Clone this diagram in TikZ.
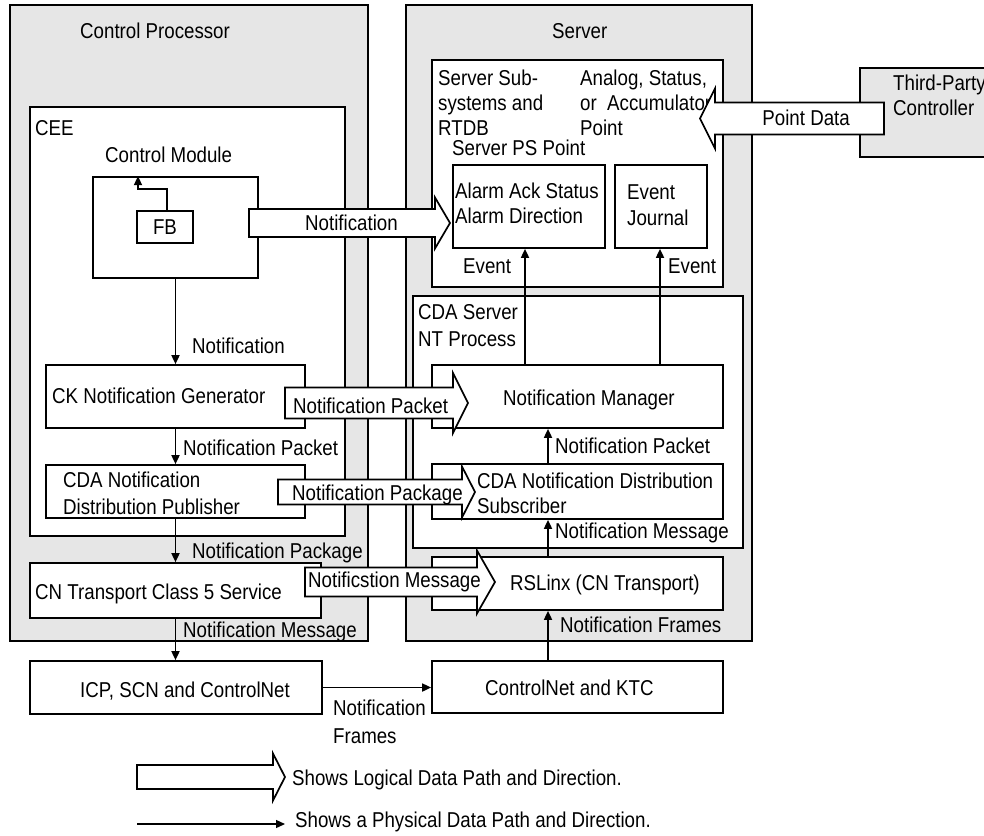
\documentclass[tikz,border=0pt]{standalone}
\usepackage{fontspec}
\setmainfont{Liberation Sans}[FakeStretch=0.87]
\usetikzlibrary{arrows.meta}
\definecolor{boxgray}{RGB}{230,230,230}
\tikzset{
  blk/.style={draw=black, line width=1.7pt, fill=white, inner sep=0pt},
  grp/.style={blk, fill=boxgray},
  lbl/.style={inner sep=0pt, anchor=base west},
  mlbl/.style={inner sep=0pt, anchor=north west, align=left},
  arr/.style={draw=black, line width=1.7pt, -{Triangle[length=9pt,width=8pt]}},
  fat/.style={draw=black, line width=1.7pt, fill=white, line join=miter}
}
\newcommand{\fatarrow}[6]{% tail, base, tip, mid, body half, head half
  \draw[fat] (#1,{#4-#5}) -- (#2,{#4-#5}) -- (#2,{#4-#6}) -- (#3,#4) -- (#2,{#4+#6}) -- (#2,{#4+#5}) -- (#1,{#4+#5}) -- cycle;}
\begin{document}
\begin{tikzpicture}[x=1pt,y=-1pt,font=\fontsize{21.5}{25}\selectfont]
	\tikzstyle{every node}+=[inner sep=0pt]
	\useasboundingbox (0,0) rectangle (984,835);
	\node[grp, minimum width=358, minimum height=636] (cp) at (189,323) {};
	\node[grp, minimum width=346, minimum height=636] (srv) at (579,323) {};
	\node[grp, minimum width=140, minimum height=89] (tpc) at (930,112.5) {};
	\node[blk, minimum width=315, minimum height=429] (cee) at (187.5,321.5) {};
	\node[blk, minimum width=165, minimum height=101] (cm) at (175.5,227.5) {};
	\node[blk, minimum width=56, minimum height=32] (fb) at (165,227) {FB};
	\node[blk, minimum width=291, minimum height=227] (ssys) at (577.5,173.5) {};
	\node[blk, minimum width=152, minimum height=83] (alarm) at (529,206.5) {};
	\node[blk, minimum width=92, minimum height=83] (ej) at (661,206.5) {};
	\node[blk, minimum width=330, minimum height=252] (cdas) at (578,422) {};
	\node[blk, minimum width=291, minimum height=63] (nm) at (577.5,396.5) {};
	\node[blk, minimum width=291, minimum height=55] (sub) at (577.5,491.5) {};
	\node[blk, minimum width=291, minimum height=53] (rsl) at (577.5,583.5) {};
	\node[blk, minimum width=291, minimum height=52] (cnk) at (577.5,687) {};
	\node[blk, minimum width=259, minimum height=63] (ckg) at (175.5,396.5) {};
	\node[blk, minimum width=259, minimum height=53] (pub) at (175.5,491.5) {};
	\node[blk, minimum width=291, minimum height=55] (cnt) at (175.5,590.5) {};
	\node[blk, minimum width=292, minimum height=53] (icp) at (176,687.5) {};
	\draw[arr] ([xshift=2pt]fb.north) -- ++(0,-21) -| ([xshift=-37.5pt]cm.north);
	\draw[arr] (cm.south) -- (ckg.north);
	\draw[arr] (ckg.south) -- (pub.north);
	\draw[arr] (pub.south) -- (cnt.north);
	\draw[arr] (cnt.south) -- (cnt.south |- icp.north);
	\draw[arr] (icp.east) -- (icp.east -| cnk.west);
	\draw[arr] ([xshift=-29.5pt]cnk.north) -- ([xshift=-29.5pt]rsl.south);
	\draw[arr] ([xshift=-29.5pt]rsl.north) -- ([xshift=-29.5pt]sub.south);
	\draw[arr] ([xshift=-29.5pt]sub.north) -- ([xshift=-29.5pt]nm.south);
	\draw[arr] ([xshift=-52.5pt]nm.north) -- ([xshift=-52.5pt]nm.north |- alarm.south);
	\draw[arr] ([xshift=82.5pt]nm.north) -- ([xshift=82.5pt]nm.north |- ej.south);
	\node[lbl] (cpT) at (80,38) {Control Processor};
	\node[lbl] (srvT) at (552,38) {Server};
	\node[lbl] (ceeT) at (35,135) {CEE};
	\node[lbl] (cmT) at (105,162) {Control Module};
	\node[mlbl] (ssysT) at (438,69.4) {Server Sub-\\systems and\\RTDB};
	\node[mlbl] (ptT) at (580,69.4) {Analog, Status,\\or\ \ Accumulator\\Point};
	\node[lbl] (psT) at (452,155) {Server PS Point};
	\node[mlbl] (alarmT) at (455,182.4) {Alarm Ack Status\\Alarm Direction};
	\node[mlbl] (ejT) at (627,184.4) {Event\\[1pt]Journal};
	\node[lbl] (evA) at (463,273) {Event};
	\node[lbl] (evB) at (668,273) {Event};
	\node[mlbl] (cdasT) at (418,304.4) {CDA Server\\[2pt]NT Process};
	\node[lbl] (nmT) at (503,405) {Notification Manager};
	\node[lbl] (npR) at (555,453) {Notification Packet};
	\node[mlbl] (subT) at (477,472.4) {CDA Notification Distribution\\Subscriber};
	\node[lbl] (nmsR) at (555,538) {Notification Message};
	\node[lbl] (rslT) at (510,590) {RSLinx (CN Transport)};
	\node[lbl] (nfR) at (560,632) {Notification Frames};
	\node[lbl] (cnkT) at (485,695) {ControlNet and KTC};
	\node[mlbl] (tpcT) at (893,74.4) {Third-Party\\Controller};
	\node[lbl] (ntL) at (192,353) {Notification};
	\node[lbl] (ckgT) at (52,403) {CK Notification Generator};
	\node[lbl] (npL) at (183,455) {Notification Packet};
	\node[mlbl] (pubT) at (63,471.4) {CDA Notification\\[2pt]Distribution Publisher};
	\node[lbl] (npkL) at (192,558) {Notification Package};
	\node[lbl] (cntT) at (35,599) {CN Transport Class 5 Service};
	\node[lbl] (nmsL) at (183,637) {Notification Message};
	\node[lbl] (icpT) at (80,697) {ICP, SCN and ControlNet};
	\node[mlbl] (nfL) at (333,699.4) {Notification\\[3pt]Frames};
	\fatarrow{249}{435}{450}{223}{14}{25.5}
	\fatarrow{884}{715}{700}{118.5}{16}{30}
	\fatarrow{285}{453}{468}{403}{15.5}{30}
	\fatarrow{278}{462}{475}{492}{12.5}{25.5}
	\fatarrow{305}{477}{495}{582}{14.5}{31.5}
	\fatarrow{137}{273}{285}{777}{12}{23.5}
	\node[lbl] (ntF) at (305,230) {Notification};
	\node[lbl, anchor=base east] (pdF) at (850,125) {Point Data};
	\node[lbl] (npF) at (293,413) {Notification Packet};
	\node[lbl] (npkF) at (292,500) {Notification Package};
	\node[lbl] (nmsF) at (308,587) {Notificstion Message};
	\coordinate (lgA) at (137,824);
	\coordinate (lgB) at (285,824);
	\draw[arr, line width=1.3pt] (lgA) -- (lgB);
	\node[lbl] (lgT1) at (292,785) {Shows Logical Data Path and Direction.};
	\node[lbl] (lgT2) at (295,827) {Shows a Physical Data Path and Direction.};
\end{tikzpicture}
\end{document}
